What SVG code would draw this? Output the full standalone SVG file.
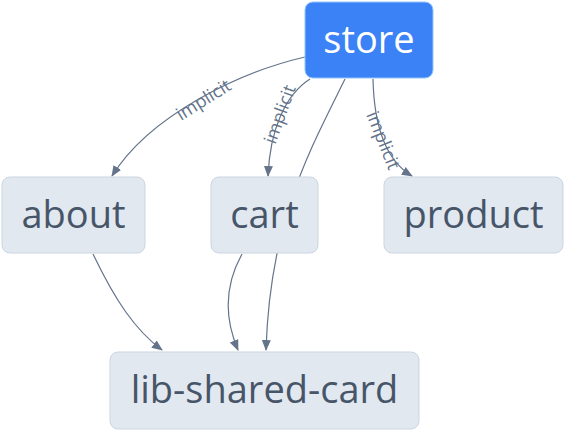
<svg xmlns="http://www.w3.org/2000/svg" width="566" height="431" viewBox="0 0 566 431">
<style>
.node rect{fill:#e2e8f0;stroke:#cbd5e1;stroke-width:1}
.node text{font-family:"Open Sans","Noto Sans",sans-serif;font-size:38px;fill:#475569;text-anchor:middle}
#store rect{fill:#3b82f6;stroke:#93c5fd}
#store text{fill:#ffffff}
.edge{fill:none;stroke:#64748b;stroke-width:1.2}
.lbl{font-family:"Open Sans","Noto Sans",sans-serif;font-size:18px;fill:#64748b;text-anchor:middle;dominant-baseline:central}
</style>
<defs>
<marker id="arr" markerWidth="11" markerHeight="9" refX="10" refY="4.5" orient="auto" markerUnits="userSpaceOnUse">
<path d="M0,0 L11,4.5 L0,9 z" fill="#64748b"/>
</marker>
</defs>
<g id="connectors">
<path class="edge" d="M305,57 C240,72 150,115 112,176" marker-end="url(#arr)"/>
<path class="edge" d="M310,79 C285,95 270,130 268,176" marker-end="url(#arr)"/>
<path class="edge" d="M373,79 C374,125 385,160 412,176" marker-end="url(#arr)"/>
<path class="edge" d="M345,79 C310,150 270,220 266,350" marker-end="url(#arr)"/>
<path class="edge" d="M242,254 C222,290 226,322 238,350" marker-end="url(#arr)"/>
<path class="edge" d="M93,254 C115,300 135,330 162,350" marker-end="url(#arr)"/>
<text class="lbl" transform="translate(203,99) rotate(-32)">implicit</text>
<text class="lbl" transform="translate(279,114) rotate(-70)">implicit</text>
<text class="lbl" transform="translate(384,140) rotate(68)">implicit</text>
</g>
<g id="store" class="node"><rect x="305" y="2" width="128" height="76" rx="8"/><text x="369" y="53">store</text></g>
<g id="about" class="node"><rect x="2" y="177" width="143" height="76" rx="8"/><text x="73.5" y="228">about</text></g>
<g id="cart" class="node"><rect x="211" y="177" width="107" height="76" rx="8"/><text x="264.5" y="228">cart</text></g>
<g id="product" class="node"><rect x="384" y="177" width="179" height="76" rx="8"/><text x="473.5" y="228">product</text></g>
<g id="lib-shared-card" class="node"><rect x="110" y="352" width="309" height="77" rx="8"/><text x="264.5" y="403">lib-shared-card</text></g>
</svg>
